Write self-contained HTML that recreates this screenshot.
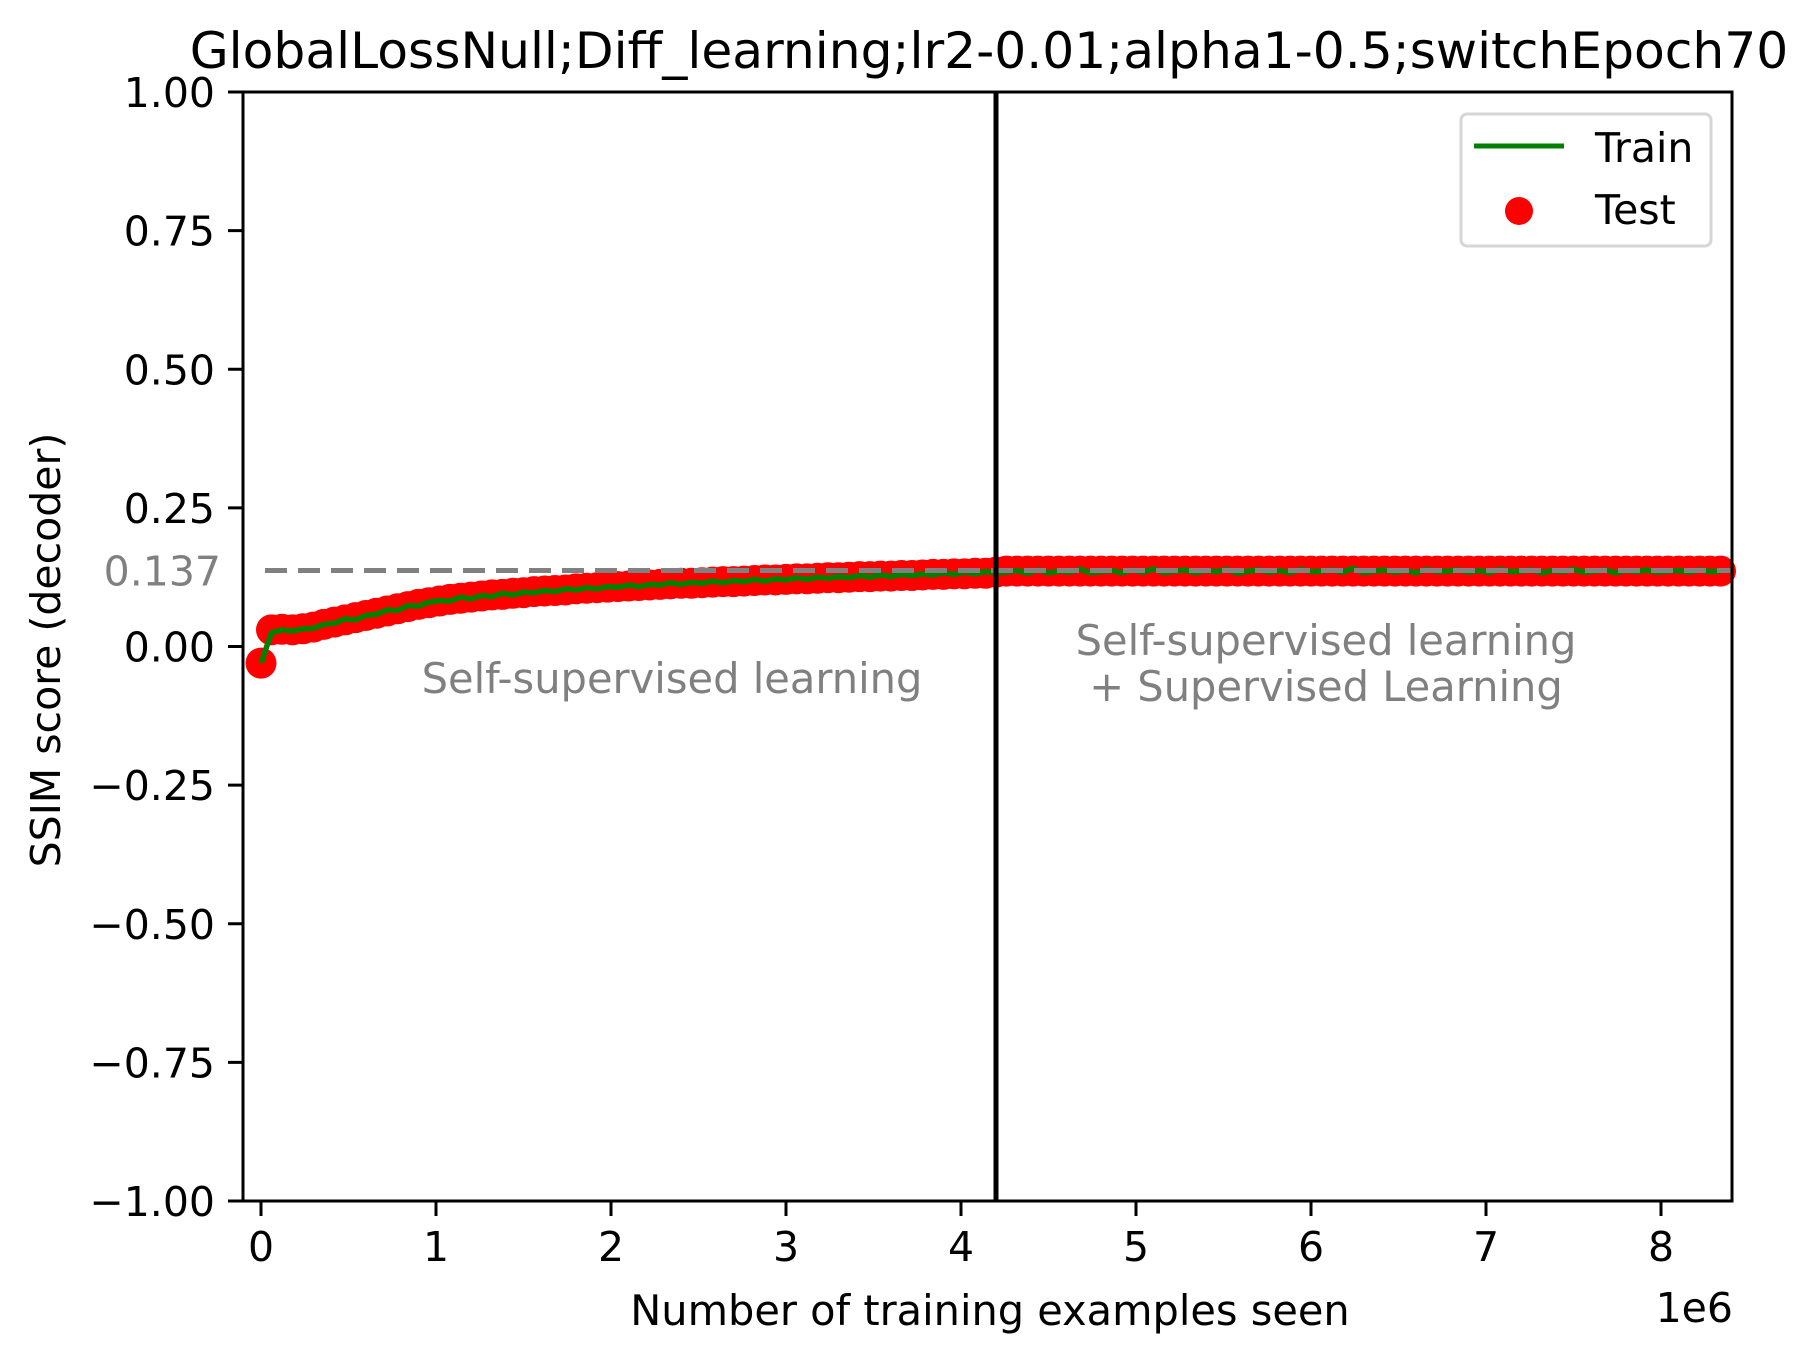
<!DOCTYPE html>
<html><head><meta charset="utf-8"><style>
html,body{margin:0;padding:0;background:#fff;}
svg{display:block;font-family:"DejaVu Sans","Liberation Sans",sans-serif;}
</style></head><body>
<svg id="chart" width="1813" height="1357" viewBox="0 0 1813 1357" xmlns="http://www.w3.org/2000/svg">
<rect width="1813" height="1357" fill="#fff"/>
<text x="989" y="68" font-size="50.3" text-anchor="middle">GlobalLossNull;Diff_learning;lr2-0.01;alpha1-0.5;switchEpoch70</text>
<g id="marks"></g>
<g id="axes"></g>
<text transform="translate(60,650) rotate(-90)" font-size="41" text-anchor="middle">SSIM score (decoder)</text>
<text x="990" y="1325" font-size="41.5" text-anchor="middle">Number of training examples seen</text>
<text x="1740" y="1322" font-size="41" text-anchor="end" transform="translate(-7,0)">1e6</text>
<text x="672" y="693" font-size="41.6" fill="#808080" text-anchor="middle">Self-supervised learning</text>
<text x="1326" y="655" font-size="41.6" fill="#808080" text-anchor="middle">Self-supervised learning</text>
<text x="1326" y="701" font-size="41.6" fill="#808080" text-anchor="middle">+ Supervised Learning</text>
<g>
<rect x="1461" y="114" width="250" height="132" rx="6" fill="#fff" stroke="#d6d6d6" stroke-width="3"/>
<line x1="1474" y1="146" x2="1564" y2="146" stroke="#008000" stroke-width="5"/>
<text x="1595" y="162" font-size="41">Train</text>
<circle cx="1519" cy="211" r="14" fill="#ff0000"/>
<text x="1595" y="224" font-size="41">Test</text>
</g>
</svg>
<script>
const testValues=[-0.030,0.030,0.031,0.030,0.032,0.035,0.040,0.044,0.048,0.052,0.056,0.060,0.064,0.068,0.072,0.076,0.079,0.082,0.085,0.087,
0.089,0.091,0.093,0.094,0.096,0.097,0.099,0.100,0.101,0.102,0.104,0.105,0.106,0.107,0.108,0.109,0.110,0.111,0.112,0.113,
0.114,0.114,0.115,0.116,0.117,0.117,0.118,0.119,0.120,0.120,0.121,0.122,0.122,0.123,0.124,0.124,0.125,0.126,0.126,0.127,
0.127,0.128,0.128,0.129,0.130,0.130,0.131,0.131,0.132,0.132,0.134,0.136,0.136,0.136,0.136,0.136,0.136,0.136,0.136,0.136,
0.136,0.136,0.136,0.136,0.136,0.136,0.136,0.136,0.136,0.136,0.136,0.136,0.136,0.136,0.136,0.136,0.136,0.136,0.136,0.136,
0.136,0.136,0.136,0.136,0.136,0.136,0.136,0.136,0.136,0.136,0.136,0.136,0.136,0.136,0.136,0.136,0.136,0.136,0.136,0.136,
0.136,0.136,0.136,0.136,0.136,0.136,0.136,0.136,0.136,0.136,0.136,0.136,0.136,0.136,0.136,0.136,0.136,0.136,0.136,0.136];
const trainValues=[-0.030,0.025,0.030,0.028,0.032,0.033,0.040,0.042,0.050,0.048,0.056,0.058,0.066,0.065,0.074,0.073,0.080,0.083,0.082,0.089,
0.086,0.092,0.090,0.096,0.093,0.098,0.097,0.101,0.099,0.104,0.102,0.106,0.104,0.108,0.107,0.111,0.108,0.112,0.111,0.115,
0.112,0.116,0.114,0.118,0.115,0.119,0.117,0.121,0.118,0.122,0.120,0.124,0.121,0.125,0.123,0.126,0.124,0.128,0.125,0.129,
0.126,0.130,0.128,0.131,0.129,0.133,0.130,0.134,0.131,0.135,0.133,0.134,0.137,0.132,0.138,0.133,0.136,0.134,0.139,0.133,
0.135,0.137,0.133,0.138,0.134,0.140,0.133,0.136,0.138,0.133,0.137,0.135,0.139,0.132,0.136,0.138,0.134,0.137,0.133,0.139,
0.135,0.136,0.138,0.134,0.141,0.133,0.136,0.138,0.134,0.137,0.133,0.139,0.135,0.136,0.138,0.134,0.137,0.133,0.139,0.135,
0.136,0.138,0.133,0.137,0.135,0.139,0.134,0.136,0.138,0.133,0.137,0.135,0.138,0.134,0.136,0.137,0.134,0.138,0.135,0.136];
const epochStep=60000;
const xTicks=[0,1,2,3,4,5,6,7,8];
const yTicks=[1.0,0.75,0.5,0.25,0.0,-0.25,-0.5,-0.75,-1.0];
const yTickLabels=["1.00","0.75","0.50","0.25","0.00","\u22120.25","\u22120.50","\u22120.75","\u22121.00"];
const switchX=4.2e6;
const baseline=0.137;

const L=243,R=1732,T=92,B=1201;
const X=v=>261+v/1e6*175;
const Y=v=>646.5-v*(B-T)/2;
const NS="http://www.w3.org/2000/svg";
function mk(tag,attrs,parent){const e=document.createElementNS(NS,tag);for(const k in attrs)e.setAttribute(k,attrs[k]);parent.appendChild(e);return e;}
const marks=document.getElementById('marks');
const axes=document.getElementById('axes');
testValues.forEach((v,i)=>{
  const c=mk('circle',{cx:X(i*epochStep),cy:Y(v),r:15.5,fill:'#ff0000'},marks);
  
  
});
const pts=trainValues.map((v,i)=>X(i*epochStep).toFixed(1)+','+Y(v).toFixed(1)).join(' ');
const pl=mk('polyline',{points:pts,fill:'none',stroke:'#008000','stroke-width':5.5,'stroke-linejoin':'round'},marks);


const dl=mk('line',{x1:X(0)+4,x2:R,y1:Y(baseline),y2:Y(baseline),stroke:'#808080','stroke-width':5,'stroke-dasharray':'22 11'},marks);


const bl=mk('text',{x:221,y:Y(baseline)+15,'font-size':41,fill:'#808080','text-anchor':'end'},axes);
bl.textContent=baseline.toFixed(3);


const vl=mk('line',{x1:X(switchX),x2:X(switchX),y1:T,y2:B,stroke:'#000','stroke-width':5},marks);


const fr=mk('rect',{x:L,y:T,width:R-L,height:B-T,fill:'none',stroke:'#000','stroke-width':3},axes);


xTicks.forEach(t=>{
  const x=X(t*1e6);
  const tl=mk('line',{x1:x,x2:x,y1:B,y2:B+15,stroke:'#000','stroke-width':3},axes);
  
  
  const tx=mk('text',{x:x,y:B+60,'font-size':41,'text-anchor':'middle'},axes);
  tx.textContent=String(t);
  
  
});
yTicks.forEach((t,i)=>{
  const y=Y(t);
  const tl=mk('line',{x1:L-15,x2:L,y1:y,y2:y,stroke:'#000','stroke-width':3},axes);
  
  
  const tx=mk('text',{x:L-28,y:y+15,'font-size':41,'text-anchor':'end'},axes);
  tx.textContent=yTickLabels[i];
  
  
});
</script>
</body></html>
